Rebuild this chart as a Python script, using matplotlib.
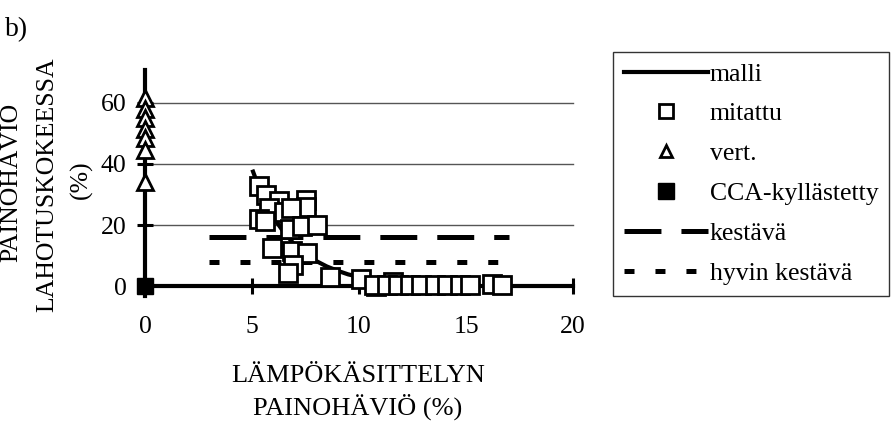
import matplotlib
matplotlib.use('Agg')
import matplotlib.pyplot as plt
from matplotlib.lines import Line2D

plt.rcParams['font.family'] = ['Liberation Serif', 'DejaVu Serif']
plt.rcParams['lines.scale_dashes'] = False

# model curve (malli)
malli_x = [5.05, 5.5, 6.0, 6.5, 7.0, 7.5, 8.0, 8.5, 9.0, 9.5, 10.0, 10.5, 11.0]
malli_y = [37.5, 29.0, 22.5, 17.5, 13.5, 10.5, 8.2, 6.4, 5.0, 3.8, 3.0, 2.3, 1.8]

# measured points (mitattu)
mitattu_x = [5.33, 5.65, 6.26, 5.81, 6.5, 7.52, 7.52, 5.33, 5.6, 6.82, 6.78, 7.32,
             8.05, 5.92, 6.85, 7.56, 6.93, 6.67, 8.64, 10.1, 10.8, 11.6, 10.7,
             11.3, 11.8, 12.4, 12.9, 13.55, 14.1, 14.7, 15.2, 16.2, 16.7]
mitattu_y = [32.9, 29.8, 28.0, 25.5, 24.2, 28.2, 25.9, 22.0, 21.3, 25.6, 18.8, 19.7,
             20.1, 12.5, 11.6, 10.9, 6.9, 4.2, 3.1, 2.4, 0.1, 1.3, 0.3,
             0.3, 0.3, 0.3, 0.3, 0.3, 0.3, 0.3, 0.3, 0.6, 0.3]

# untreated reference (vert.)
vert_x = [0, 0, 0, 0, 0, 0, 0]
vert_y = [61.5, 58.0, 55.0, 51.5, 48.5, 44.5, 34.0]

# CCA treated
cca_x = [0]
cca_y = [0]

# durability class limits
kestava_x = [3, 17]
kestava_y = [16, 16]
hyvin_x = [3, 17]
hyvin_y = [8, 8]

KESTAVA_DASH = (26.6, 14.4)
HYVIN_DASH = (7.2, 15.1)

fig = plt.figure(figsize=(8.91, 4.22), dpi=100)
ax = fig.add_axes([0.1507, 0.2861, 0.5044, 0.5566])
ax.set_xlim(-0.5, 20.5)
ax.set_ylim(-5, 72)

# grid lines
for gy in [20, 40, 60]:
    ax.plot([0, 20], [gy, gy], color='#555555', linewidth=1.0, zorder=1)

ax.plot(kestava_x, kestava_y, color='black', linewidth=3.6,
        dashes=KESTAVA_DASH, dash_capstyle='butt', zorder=2)
ax.plot(hyvin_x, hyvin_y, color='black', linewidth=3.6,
        dashes=HYVIN_DASH, dash_capstyle='butt', zorder=2)
ax.plot(malli_x, malli_y, color='black', linewidth=3.0, zorder=3)
ax.plot(mitattu_x, mitattu_y, linestyle='none', marker='s', markersize=13,
        markerfacecolor='white', markeredgecolor='black', markeredgewidth=2.0, zorder=4)
ax.plot(vert_x, vert_y, linestyle='none', marker='^', markersize=11,
        markerfacecolor='white', markeredgecolor='black', markeredgewidth=2.0, zorder=5)
ax.plot(cca_x, cca_y, linestyle='none', marker='s', markersize=11,
        color='black', zorder=5)

# axes through origin
for side in ['top', 'right']:
    ax.spines[side].set_visible(False)
ax.spines['left'].set_position(('data', 0))
ax.spines['bottom'].set_position(('data', 0))
ax.spines['left'].set_bounds(-3.3, 70.8)
ax.spines['bottom'].set_bounds(0, 20)
ax.spines['left'].set_linewidth(3.0)
ax.spines['bottom'].set_linewidth(3.0)
ax.set_xticks([0, 5, 10, 15, 20])
ax.set_yticks([0, 20, 40, 60])
ax.tick_params(axis='both', direction='inout', length=11.5, width=2.2,
               labelsize=18.5)
ax.tick_params(axis='x', pad=15.5)
ax.tick_params(axis='y', pad=7.5)

# axis titles
fig.text(358 / 891, 1 - 382 / 422, 'LÄMPÖKÄSITTELYN', ha='center', va='baseline',
         fontsize=19)
fig.text(358 / 891, 1 - 415 / 422, 'PAINOHÄVIÖ (%)', ha='center', va='baseline',
         fontsize=19)
fig.text(11 / 891, 1 - 182 / 422, 'PAINOHÄVIÖ', ha='center', va='center',
         rotation=90, fontsize=18.5)
fig.text(47 / 891, 1 - 185 / 422, 'LAHOTUSKOKEESSA', ha='center', va='center',
         rotation=90, fontsize=18.5)
fig.text(81 / 891, 1 - 180 / 422, '(%)', ha='center', va='center',
         rotation=90, fontsize=18.5)
fig.text(5 / 891, 1 - 30 / 422, 'b)', ha='left', va='center', fontsize=20)

handles = [
    Line2D([], [], color='black', linewidth=3.0),
    Line2D([], [], linestyle='none', marker='s', markersize=10,
           markerfacecolor='white', markeredgecolor='black', markeredgewidth=2.0),
    Line2D([], [], linestyle='none', marker='^', markersize=9,
           markerfacecolor='white', markeredgecolor='black', markeredgewidth=2.0),
    Line2D([], [], linestyle='none', marker='s', markersize=12, color='black'),
    Line2D([], [], color='black', linewidth=3.6, dashes=KESTAVA_DASH,
           dash_capstyle='butt'),
    Line2D([], [], color='black', linewidth=3.6, dashes=HYVIN_DASH,
           dash_capstyle='butt'),
]
labels = ['malli', 'mitattu', 'vert.', 'CCA-kyllästetty', 'kestävä', 'hyvin kestävä']
leg = fig.legend(handles, labels, loc='upper left',
                 bbox_to_anchor=(613 / 891, 1 - 52 / 422), borderaxespad=0,
                 fontsize=18.5, frameon=True, fancybox=False, edgecolor='black',
                 handlelength=3.3, handletextpad=0.05, labelspacing=0.66,
                 borderpad=0.41)
leg.get_frame().set_linewidth(1.0)

fig.savefig('out.png', dpi=100)
